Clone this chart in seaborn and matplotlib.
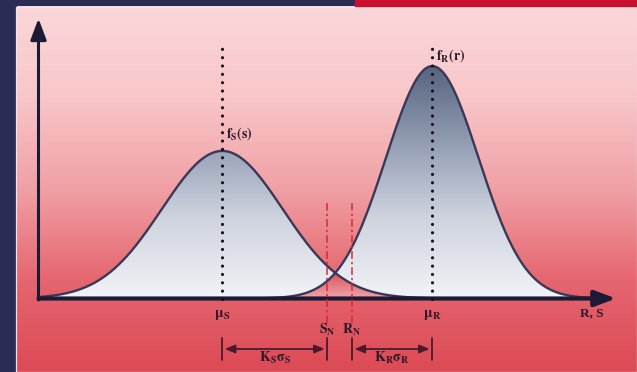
import numpy as np
import pandas as pd
import matplotlib
matplotlib.use("Agg")
import matplotlib.pyplot as plt
from matplotlib.colors import LinearSegmentedColormap
from matplotlib.patches import Rectangle
import seaborn as sns

# Load (S) and resistance (R) densities
dist_names = ["S", "R"]
dist_means = [3.5, 7.5]
dist_sigmas = [1.15, 0.88]
dist_peaks = [0.527, 0.830]
density_labels = [r"$\mathbf{f_S(s)}$", r"$\mathbf{f_R(r)}$"]
mean_labels = [r"$\mathbf{\mu_S}$", r"$\mathbf{\mu_R}$"]

# Nominal values and safety margins
nominal_values = [5.50, 5.97]
nominal_labels = [r"$\mathbf{S_N}$", r"$\mathbf{R_N}$"]
margin_labels = [r"$\mathbf{K_S\sigma_S}$", r"$\mathbf{K_R\sigma_R}$"]
axis_label = "R, S"
x_axis_end = 11.0
y_axis_end = 1.0

sns.set_theme(style="white")
plt.rcParams["mathtext.fontset"] = "stix"

W, H = 637, 372
fig = plt.figure(figsize=(W / 100, H / 100), dpi=100, facecolor="#2b2c55")
ax = fig.add_axes([0, 0, 1, 1])

# layout helpers: pixel position -> data units
X0, KX = 38.5, 52.5
Y0, KY = 298.5, 280.0
def dx(px):
    return (px - X0) / KX
def dy(py):
    return (Y0 - py) / KY

# panel background
bg_cmap = LinearSegmentedColormap.from_list(
    "bg", [(0, "#fbd7d9"), (0.25, "#f8c6c9"), (0.5, "#f0a0a5"),
           (0.75, "#e5666f"), (1, "#dc4a55")])
grad = np.linspace(0, 1, 256).reshape(-1, 1)
ax.imshow(grad, cmap=bg_cmap, aspect="auto", origin="upper",
          extent=[dx(17), dx(W), dy(H), dy(6)], zorder=0)
ax.add_patch(Rectangle((dx(16.5), dy(H)), dx(W) - dx(16.5), dy(6.5) - dy(H),
                       fill=False, ec="#f4e4ea", lw=0.9, zorder=0.5))
fig.patches.append(Rectangle((355 / W, 1 - 6 / H), 1, 6 / H,
                             transform=fig.transFigure, color="#c8102e"))

# density curves
xs = np.linspace(0.05, 10.5, 800)
curves = {}
rows = []
for name, m, s, p in zip(dist_names, dist_means, dist_sigmas, dist_peaks):
    y = p * np.exp(-0.5 * ((xs - m) / s) ** 2)
    curves[name] = y
    rows.append(pd.DataFrame({"x": xs, "f": y, "dist": name}))
df = pd.concat(rows, ignore_index=True)

upper = np.maximum(curves["S"], curves["R"])
lower = np.minimum(curves["S"], curves["R"])

# gradient fill under both curves
fill_cmap = LinearSegmentedColormap.from_list(
    "fill", [(0, "#f2f3f7"), (0.35, "#cdd2de"), (0.65, "#96a0b6"), (1, "#56627f")])
top = max(dist_peaks)
fill_poly = ax.fill_between(xs, 0, upper, facecolor="none", edgecolor="none")
im = ax.imshow(np.linspace(0, 1, 256).reshape(-1, 1), cmap=fill_cmap,
               aspect="auto", origin="lower",
               extent=[xs[0], xs[-1], 0, top], zorder=1)
im.set_clip_path(fill_poly.get_paths()[0], ax.transData)

# overlap region where both densities are present
over_cmap = LinearSegmentedColormap.from_list("over", ["#f0a3aa", "#dc505c"])
ax.fill_between(xs, 0, lower, where=lower > 0.002, facecolor="#e8808a",
                edgecolor="none", zorder=1.4)
over_poly = ax.fill_between(xs, 0, lower, facecolor="none", edgecolor="none")
im2 = ax.imshow(np.linspace(0, 1, 64).reshape(-1, 1), cmap=over_cmap,
                aspect="auto", origin="lower",
                extent=[xs[0], xs[-1], 0, lower.max()], zorder=1.5)
im2.set_clip_path(over_poly.get_paths()[0], ax.transData)

sns.lineplot(data=df, x="x", y="f", units="dist", estimator=None,
             color="#3a3858", lw=1.7, ax=ax, zorder=3, legend=False)

# axes with arrowheads
axis_color = "#1d1a36"
ax.annotate("", xy=(x_axis_end, 0), xytext=(0, 0),
            arrowprops=dict(arrowstyle="-|>,head_length=0.8,head_width=0.3",
                            color=axis_color, lw=3.0, mutation_scale=16,
                            shrinkA=0, shrinkB=0), zorder=4)
ax.annotate("", xy=(0, y_axis_end), xytext=(0, -1.5 / KY),
            arrowprops=dict(arrowstyle="-|>,head_length=0.8,head_width=0.3",
                            color=axis_color, lw=2.2, mutation_scale=16,
                            shrinkA=0, shrinkB=0), zorder=4)

txt_color = "#2a1a2c"
dot_top = dy(48)
for m, dl, ml in zip(dist_means, density_labels, mean_labels):
    ax.plot([m, m], [0, dot_top], color="#111111", lw=2.3,
            linestyle=(0, (0.01, 2.6)), dash_capstyle="round", zorder=5)
    ax.text(m, dy(315), ml, ha="center", va="center", fontsize=10.5,
            color=txt_color, zorder=6)

ax.text(dist_means[0] + dx(226) - dx(222), dy(134), density_labels[0],
        ha="left", va="center", fontsize=10, color=txt_color, zorder=6)
ax.text(dist_means[1] + dx(436) - dx(432), dy(56), density_labels[1],
        ha="left", va="center", fontsize=10, color=txt_color, zorder=6)

for n, nl in zip(nominal_values, nominal_labels):
    ax.plot([n, n], [dy(323), dy(203)], color="#d42a35", lw=1.1,
            linestyle=(0, (5, 2, 1.5, 2)), zorder=5)
    ax.text(n, dy(330), nl, ha="center", va="center", fontsize=10,
            color=txt_color, zorder=6)

ax.text(dx(592), dy(313), axis_label, ha="center", va="center", fontsize=9.5,
        fontfamily="Liberation Serif", fontweight="bold", color=txt_color, zorder=6)

# safety margin brackets
bracket_color = "#4a1a2c"
spans = [(dist_means[0], nominal_values[0]), (nominal_values[1], dist_means[1])]
for (a, b), lab in zip(spans, margin_labels):
    for v in (a, b):
        ax.plot([v, v], [dy(360), dy(338)], color=bracket_color, lw=1.3, zorder=5)
    ax.annotate("", xy=(b - 0.05, dy(349)), xytext=(a + 0.05, dy(349)),
                arrowprops=dict(arrowstyle="<|-|>,head_length=0.6,head_width=0.25",
                                color=bracket_color, lw=1.3, mutation_scale=10,
                                shrinkA=0, shrinkB=0), zorder=5)
    ax.text((a + b) / 2, dy(358), lab, ha="center", va="center", fontsize=10,
            color=txt_color, zorder=6)

ax.set_xlim(dx(0), dx(W))
ax.set_ylim(dy(H), dy(0))
ax.axis("off")

fig.savefig("out.png", dpi=100, facecolor=fig.get_facecolor())
